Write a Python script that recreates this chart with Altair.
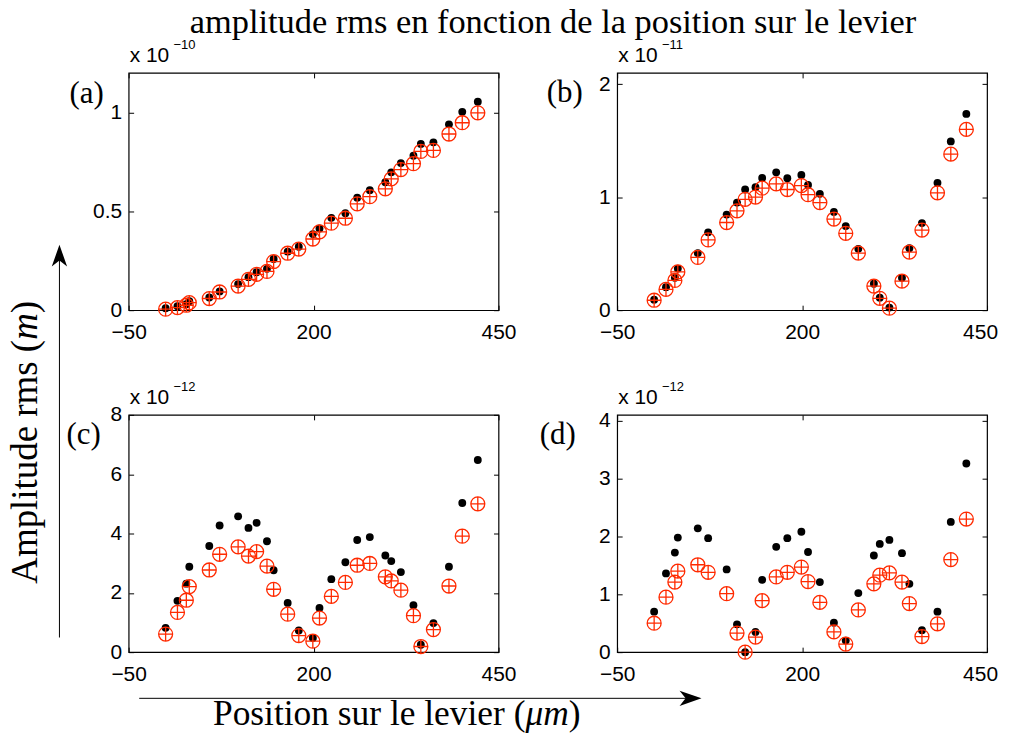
import altair as alt
import pandas as pd

# ---------------- data ----------------
x_pos = [0, 16, 28, 32, 59, 73, 98, 112, 123, 137, 146, 165, 180, 199, 208,
         224, 243, 259, 276, 297, 305, 318, 335, 345, 362, 383, 401, 422]

# panel (a)  (x 1e-10 m)
a_black = [0.01, 0.02, 0.03, 0.045, 0.064, 0.095, 0.132, 0.167, 0.192, 0.209,
           0.259, 0.296, 0.321, 0.385, 0.413, 0.467, 0.49, 0.569, 0.607, 0.647,
           0.697, 0.744, 0.781, 0.841, 0.849, 0.94, 1.003, 1.054]
a_red = [0.005, 0.013, 0.025, 0.038, 0.059, 0.092, 0.122, 0.156, 0.181, 0.196,
         0.246, 0.288, 0.309, 0.36, 0.396, 0.44, 0.465, 0.538, 0.574, 0.614,
         0.664, 0.711, 0.741, 0.803, 0.808, 0.891, 0.948, 0.998]

# panel (b)  (x 1e-11 m)
b_black = [0.093, 0.204, 0.286, 0.368, 0.505, 0.689, 0.846, 0.952, 1.068, 1.089,
           1.17, 1.22, 1.168, 1.197, 1.109, 1.03, 0.87, 0.744, 0.543, 0.234,
           0.111, 0.023, 0.286, 0.549, 0.771, 1.127, 1.494, 1.737]
b_red = [0.088, 0.184, 0.263, 0.339, 0.467, 0.622, 0.776, 0.879, 0.981, 1.001,
         1.08, 1.118, 1.068, 1.103, 1.022, 0.952, 0.806, 0.68, 0.505, 0.213,
         0.105, 0.018, 0.257, 0.514, 0.709, 1.039, 1.381, 1.6]

# panel (c)  (x 1e-12 m)
c_black = [0.82, 1.73, 2.31, 2.88, 3.58, 4.27, 4.58, 4.19, 4.36, 3.74, 2.76,
           1.66, 0.73, 0.48, 1.49, 2.46, 3.03, 3.78, 3.88, 3.26, 3.07, 2.7,
           1.58, 0.25, 0.98, 2.88, 5.03, 6.48]
c_red = [0.61, 1.34, 1.75, 2.21, 2.77, 3.3, 3.55, 3.24, 3.39, 2.9, 2.12, 1.28,
         0.56, 0.37, 1.15, 1.88, 2.35, 2.93, 2.99, 2.54, 2.4, 2.09, 1.23, 0.19,
         0.76, 2.23, 3.91, 5.0]

# panel (d)  (x 1e-12 m)
d_black = [0.70, 1.36, 1.72, 1.98, 2.14, 1.97, 1.43, 0.48, 0.0, 0.35, 1.25,
           1.82, 1.97, 2.08, 1.73, 1.21, 0.51, 0.2, 1.02, 1.67, 1.87, 1.94,
           1.71, 1.18, 0.38, 0.7, 2.25, 3.26]
d_red = [0.5, 0.95, 1.21, 1.4, 1.51, 1.38, 1.01, 0.33, 0.0, 0.26, 0.89, 1.3,
         1.38, 1.47, 1.22, 0.86, 0.35, 0.14, 0.73, 1.18, 1.33, 1.37, 1.21,
         0.84, 0.27, 0.49, 1.6, 2.3]

x_ticks = [-50, 200, 450]
a_ticks = [0, 0.5, 1]
b_ticks = [0, 1, 2]
c_ticks = [0, 2, 4, 6, 8]
d_ticks = [0, 1, 2, 3, 4]

TITLE = "amplitude rms en fonction de la position sur le levier"

# ---------------- style ----------------
RED = "#ff2a00"
CIRCLE_PLUS = "M-1,0A1,1,0,1,1,1,0A1,1,0,1,1,-1,0ZM-1,0L1,0M0,-1L0,1"
ARROW_UP = "M0,-1L0.7,1L0,0.45L-0.7,1Z"
SERIF = "Liberation Serif"
SANS = "Liberation Sans"
W, H = 371, 238
TICK_FS = 21
# negative labels: digits centred on the tick, minus sign hanging to the left
LABEL_EXPR = ("datum.value < 0 ? '\u2212' + (-datum.value) + '\u2002' "
              ": '' + datum.value")


def ann():
    return alt.Chart(pd.DataFrame({"k": [0]}))


def axis(orient, values, labels, last_shift=0):
    kw = dict(orient=orient, values=values, labels=labels, domain=False,
              grid=False, ticks=True, tickSize=5, tickColor="black",
              tickWidth=1, offset=-5, title=None, labelFlush=False,
              labelOverlap=False)
    if labels:
        kw.update(labelFont=SANS, labelFontSize=TICK_FS, labelColor="black",
                  labelExpr=LABEL_EXPR)
        if orient == "bottom":
            kw.update(labelPadding=11)
            if last_shift:
                kw.update(labelOffset={"condition": {"test": "datum.value > 400",
                                                     "value": last_shift},
                                       "value": 0})
        else:
            kw.update(labelPadding=7)
    return alt.Axis(**kw)


def panel(black, red, ymax, yticks, letter, exponent, lx, ly, extra=None,
          last_shift=0):
    df = pd.DataFrame({"x": x_pos, "black": black, "red": red})
    xs = alt.Scale(domain=[-50, 450], nice=False, zero=False)
    ys = alt.Scale(domain=[0, ymax], nice=False, zero=False)
    base = alt.Chart(df)
    dots = base.mark_circle(size=62, color="black", opacity=1).encode(
        x=alt.X("x:Q", scale=xs, axis=axis("bottom", x_ticks, True, last_shift)),
        y=alt.Y("black:Q", scale=ys, axis=axis("left", yticks, True)),
    )
    rings = base.mark_point(shape=CIRCLE_PLUS, size=196, filled=False,
                            color=RED, strokeWidth=1.3, opacity=1).encode(
        x=alt.X("x:Q", scale=xs, axis=axis("top", x_ticks, False)),
        y=alt.Y("red:Q", scale=ys, axis=axis("right", yticks, False)),
    )
    lab = ann().mark_text(text=letter, font=SERIF, fontSize=31, align="left",
                          baseline="alphabetic", color="black").encode(
        x=alt.value(lx), y=alt.value(ly))
    expo = ann().mark_text(text="x 10", font=SANS, fontSize=TICK_FS, align="left",
                           baseline="alphabetic", color="black").encode(
        x=alt.value(1), y=alt.value(-11))
    sup = ann().mark_text(text=exponent, font=SANS, fontSize=13, align="left",
                          baseline="alphabetic", color="black").encode(
        x=alt.value(45), y=alt.value(-24))
    layers = [dots, rings, lab, expo, sup] + (extra or [])
    return alt.layer(*layers).resolve_axis(
        x="independent", y="independent").properties(width=W, height=H)


# annotations placed relative to the plot area of panel (a), whose
# top-left corner sits at page (127.4, 70.7)
extra_a = [
    # invisible anchors fixing the extent of the whole drawing
    ann().mark_point(size=1, opacity=0).encode(x=alt.value(-137.4), y=alt.value(-80.7)),
    ann().mark_point(size=1, opacity=0).encode(x=alt.value(892.6), y=alt.value(679.3)),
    ann().mark_text(text=TITLE, font=SERIF, fontSize=34.5, align="center",
                    baseline="alphabetic", color="black").encode(
        x=alt.value(425.6), y=alt.value(-40.2)),
    # vertical arrow + label
    ann().mark_rule(color="black", strokeWidth=1).encode(
        x=alt.value(-69.4), y=alt.value(566.3), y2=alt.value(186)),
    ann().mark_point(shape=ARROW_UP, size=484, filled=True, color="black",
                     opacity=1, strokeWidth=0).encode(
        x=alt.value(-69.4), y=alt.value(183.3)),
    ann().mark_text(text="Amplitude rms (", font=SERIF, fontSize=37, angle=270,
                    align="left", baseline="alphabetic", color="black").encode(
        x=alt.value(-92.4), y=alt.value(512.3)),
    ann().mark_text(text="m", font=SERIF, fontSize=37, fontStyle="italic", angle=270,
                    align="left", baseline="alphabetic", color="black").encode(
        x=alt.value(-92.4), y=alt.value(267.7)),
    ann().mark_text(text=")", font=SERIF, fontSize=37, angle=270,
                    align="left", baseline="alphabetic", color="black").encode(
        x=alt.value(-92.4), y=alt.value(241.0)),
    # horizontal arrow + label
    ann().mark_rule(color="black", strokeWidth=1).encode(
        x=alt.value(10.6), x2=alt.value(561), y=alt.value(627.3)),
    ann().mark_point(shape=ARROW_UP, size=484, filled=True, color="black",
                     opacity=1, strokeWidth=0, angle=90).encode(
        x=alt.value(563.6), y=alt.value(627.3)),
    ann().mark_text(text="Position sur le levier (", font=SERIF, fontSize=35.5,
                    align="left", baseline="alphabetic", color="black").encode(
        x=alt.value(84.6), y=alt.value(654.5)),
    ann().mark_text(text="\u03bcm", font=SERIF, fontSize=35.5, fontStyle="italic",
                    align="left", baseline="alphabetic", color="black").encode(
        x=alt.value(398.0), y=alt.value(654.5)),
    ann().mark_text(text=")", font=SERIF, fontSize=35.5,
                    align="left", baseline="alphabetic", color="black").encode(
        x=alt.value(441.4), y=alt.value(654.5)),
]

pa = panel(a_black, a_red, 1.2, a_ticks, "(a)", "\u221210", -59.4, 30.3, extra_a)
pb = panel(b_black, b_red, 2.1, b_ticks, "(b)", "\u221211", -70.7, 29.3,
           last_shift=-7)
pc = panel(c_black, c_red, 8, c_ticks, "(c)", "\u221212", -62.4, 29)
pd_ = panel(d_black, d_red, 4.1, d_ticks, "(d)", "\u221212", -77.7, 29,
            last_shift=-7)

chart = alt.concat(
    pa, pb, pc, pd_, columns=2, spacing={"row": 105, "column": 119},
    bounds="flush",
).properties(
    padding={"left": -18, "top": -18, "right": -19, "bottom": -18},
    background="white",
).configure_view(stroke="black", strokeWidth=1.2)

chart.save("out.html", embed_options={"renderer": "svg", "actions": False})
